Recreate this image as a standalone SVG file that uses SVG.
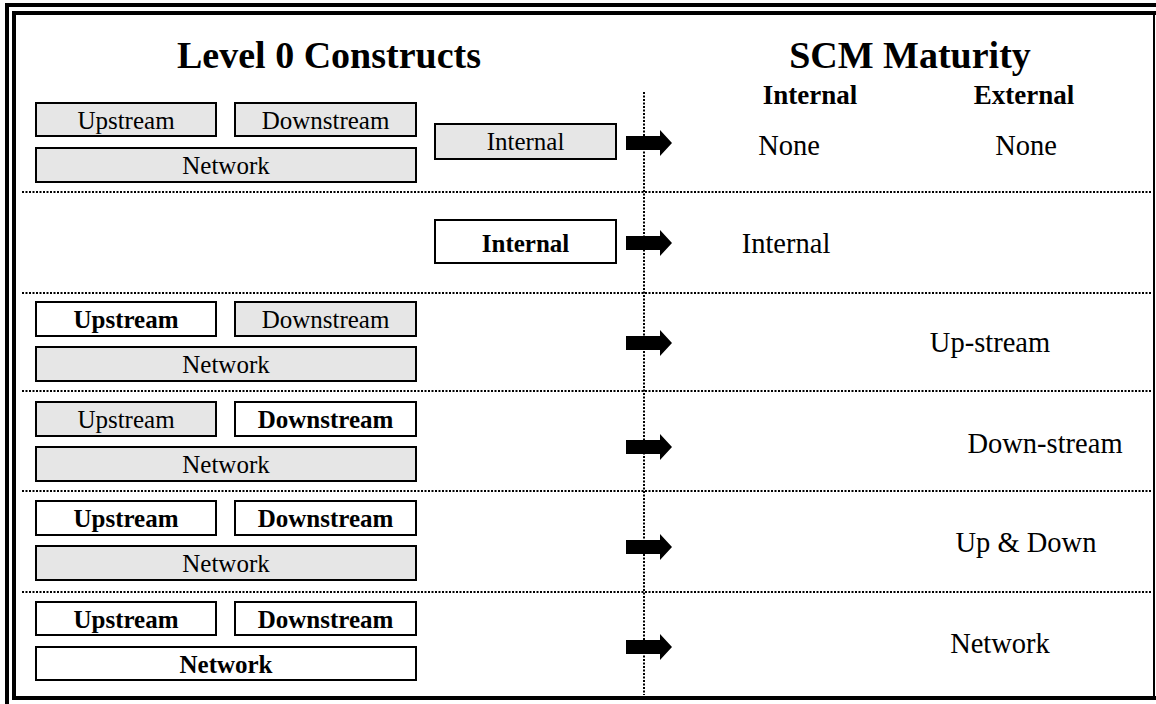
<svg xmlns="http://www.w3.org/2000/svg" width="1156" height="704" viewBox="0 0 1156 704">
<style>
.g{fill:#e6e6e6;stroke:#000;stroke-width:2}
.w{fill:#fff;stroke:#000;stroke-width:2}
.t{font-family:"Liberation Serif","Times New Roman",serif;font-size:25px;text-anchor:middle;fill:#000}
.b{font-weight:bold}
.r{font-family:"Liberation Serif","Times New Roman",serif;font-size:28.5px;text-anchor:middle;fill:#000}
.h{font-family:"Liberation Serif","Times New Roman",serif;font-size:38px;font-weight:bold;text-anchor:middle;fill:#000}
.hs{font-family:"Liberation Serif","Times New Roman",serif;font-size:27px;font-weight:bold;text-anchor:middle;fill:#000}
.d{stroke:#000;stroke-width:2;stroke-dasharray:2 1.5;fill:none}
</style>
<defs>
<path id="arr" d="M0,-7 H34 V-13 L46,0 L34,13 V7 H0 Z" fill="#000"/>
</defs>
<rect width="1156" height="704" fill="#fff"/>
<g id="frame" fill="#000">
<rect x="5" y="3" width="4" height="701"/>
<rect x="5" y="3" width="1151" height="4"/>
<rect x="12" y="11" width="4" height="689"/>
<rect x="12" y="11" width="1144" height="4"/>
<rect x="12" y="696" width="1144" height="4"/>
<rect x="1153" y="15" width="2" height="681"/>
</g>
<g id="headers">
<text class="h" x="329" y="68">Level 0 Constructs</text>
<text class="h" x="910" y="68">SCM Maturity</text>
<text class="hs" x="810" y="104">Internal</text>
<text class="hs" x="1024" y="104">External</text>
</g>
<g id="connectors">
<line class="d" x1="22" y1="192" x2="1152" y2="192"/>
<line class="d" x1="22" y1="293" x2="1152" y2="293"/>
<line class="d" x1="22" y1="391" x2="1152" y2="391"/>
<line class="d" x1="22" y1="491" x2="1152" y2="491"/>
<line class="d" x1="22" y1="592" x2="1152" y2="592"/>
<line class="d" x1="644" y1="92" x2="644" y2="695"/>
<use href="#arr" x="626" y="143"/>
<use href="#arr" x="626" y="243"/>
<use href="#arr" x="626" y="343"/>
<use href="#arr" x="626" y="447"/>
<use href="#arr" x="626" y="547"/>
<use href="#arr" x="626" y="647"/>
</g>
<g id="row1">
<g id="r1-up"><rect class="g" x="36" y="103" width="180" height="33"/><text class="t" x="126" y="129">Upstream</text></g>
<g id="r1-down"><rect class="g" x="235" y="103" width="181" height="33"/><text class="t" x="325.5" y="129">Downstream</text></g>
<g id="r1-net"><rect class="g" x="36" y="148" width="380" height="34"/><text class="t" x="226" y="174">Network</text></g>
<g id="r1-int"><rect class="g" x="435" y="124" width="181" height="35"/><text class="t" x="525.5" y="150">Internal</text></g>
<text class="r" x="789" y="155">None</text>
<text class="r" x="1026" y="155">None</text>
</g>
<g id="row2">
<g id="r2-int"><rect class="w" x="435" y="220" width="181" height="43"/><text class="t b" x="525.5" y="252">Internal</text></g>
<text class="r" x="786" y="253">Internal</text>
</g>
<g id="row3">
<g id="r3-up"><rect class="w" x="36" y="302" width="180" height="34"/><text class="t b" x="126" y="328">Upstream</text></g>
<g id="r3-down"><rect class="g" x="235" y="302" width="181" height="34"/><text class="t" x="325.5" y="328">Downstream</text></g>
<g id="r3-net"><rect class="g" x="36" y="347" width="380" height="34"/><text class="t" x="226" y="373">Network</text></g>
<text class="r" x="990" y="352">Up-stream</text>
</g>
<g id="row4">
<g id="r4-up"><rect class="g" x="36" y="402" width="180" height="34"/><text class="t" x="126" y="428">Upstream</text></g>
<g id="r4-down"><rect class="w" x="235" y="402" width="181" height="34"/><text class="t b" x="325.5" y="428">Downstream</text></g>
<g id="r4-net"><rect class="g" x="36" y="447" width="380" height="34"/><text class="t" x="226" y="473">Network</text></g>
<text class="r" x="1045" y="453">Down-stream</text>
</g>
<g id="row5">
<g id="r5-up"><rect class="w" x="36" y="501" width="180" height="34"/><text class="t b" x="126" y="527">Upstream</text></g>
<g id="r5-down"><rect class="w" x="235" y="501" width="181" height="34"/><text class="t b" x="325.5" y="527">Downstream</text></g>
<g id="r5-net"><rect class="g" x="36" y="546" width="380" height="34"/><text class="t" x="226" y="572">Network</text></g>
<text class="r" x="1026" y="552">Up &amp; Down</text>
</g>
<g id="row6">
<g id="r6-up"><rect class="w" x="36" y="602" width="180" height="33"/><text class="t b" x="126" y="628">Upstream</text></g>
<g id="r6-down"><rect class="w" x="235" y="602" width="181" height="33"/><text class="t b" x="325.5" y="628">Downstream</text></g>
<g id="r6-net"><rect class="w" x="36" y="647" width="380" height="33"/><text class="t b" x="226" y="673">Network</text></g>
<text class="r" x="1000" y="653">Network</text>
</g>
</svg>
